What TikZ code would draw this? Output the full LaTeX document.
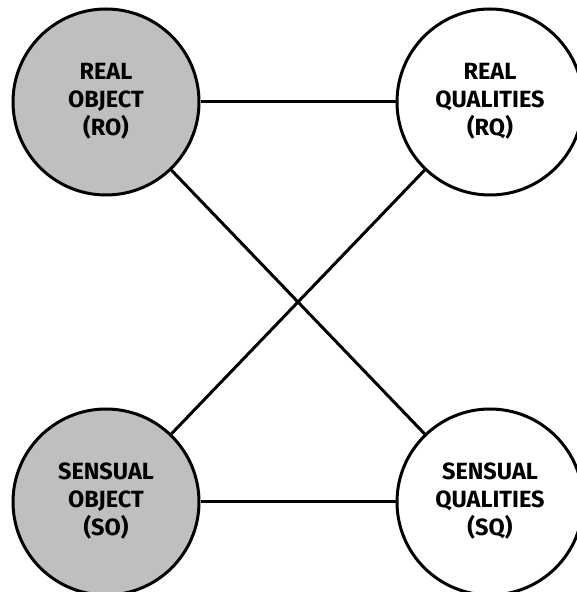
\documentclass[tikz,border=0pt]{standalone}
\usepackage{fontspec}
\setmainfont{Fira Sans}
\newcommand{\circtext}[1]{\raisebox{-4pt}{\begin{tabular}{@{}c@{}}#1\end{tabular}}}
\tikzset{
    idea/.style={circle,draw,line width=3pt,minimum size=186pt,inner sep=0pt,align=center,font=\fontsize{23.5}{27.5}\selectfont\bfseries},
    objfill/.style={fill=black!25},
    link/.style={line width=3pt}
}

\begin{document}
\begin{tikzpicture}[x=1pt,y=1pt]
            \useasboundingbox (0,0) rectangle (576,592);
            \node[idea,objfill] (RO) at (106,490) {\circtext{REAL\\OBJECT\\(RO)}};
            \node[idea] (RQ) at (490,490) {\circtext{REAL\\QUALITIES\\(RQ)}};
            \node[idea,objfill] (SO) at (106,90) {\circtext{SENSUAL\\OBJECT\\(SO)}};
            \node[idea] (SQ) at (490,90) {\circtext{SENSUAL\\QUALITIES\\(SQ)}};
            \draw[link] (RO)--(RQ);
            \draw[link] (SO)--(SQ);
            \draw[link] (RO)--(SQ);
            \draw[link] (SO)--(RQ);
        \end{tikzpicture}
\end{document}
